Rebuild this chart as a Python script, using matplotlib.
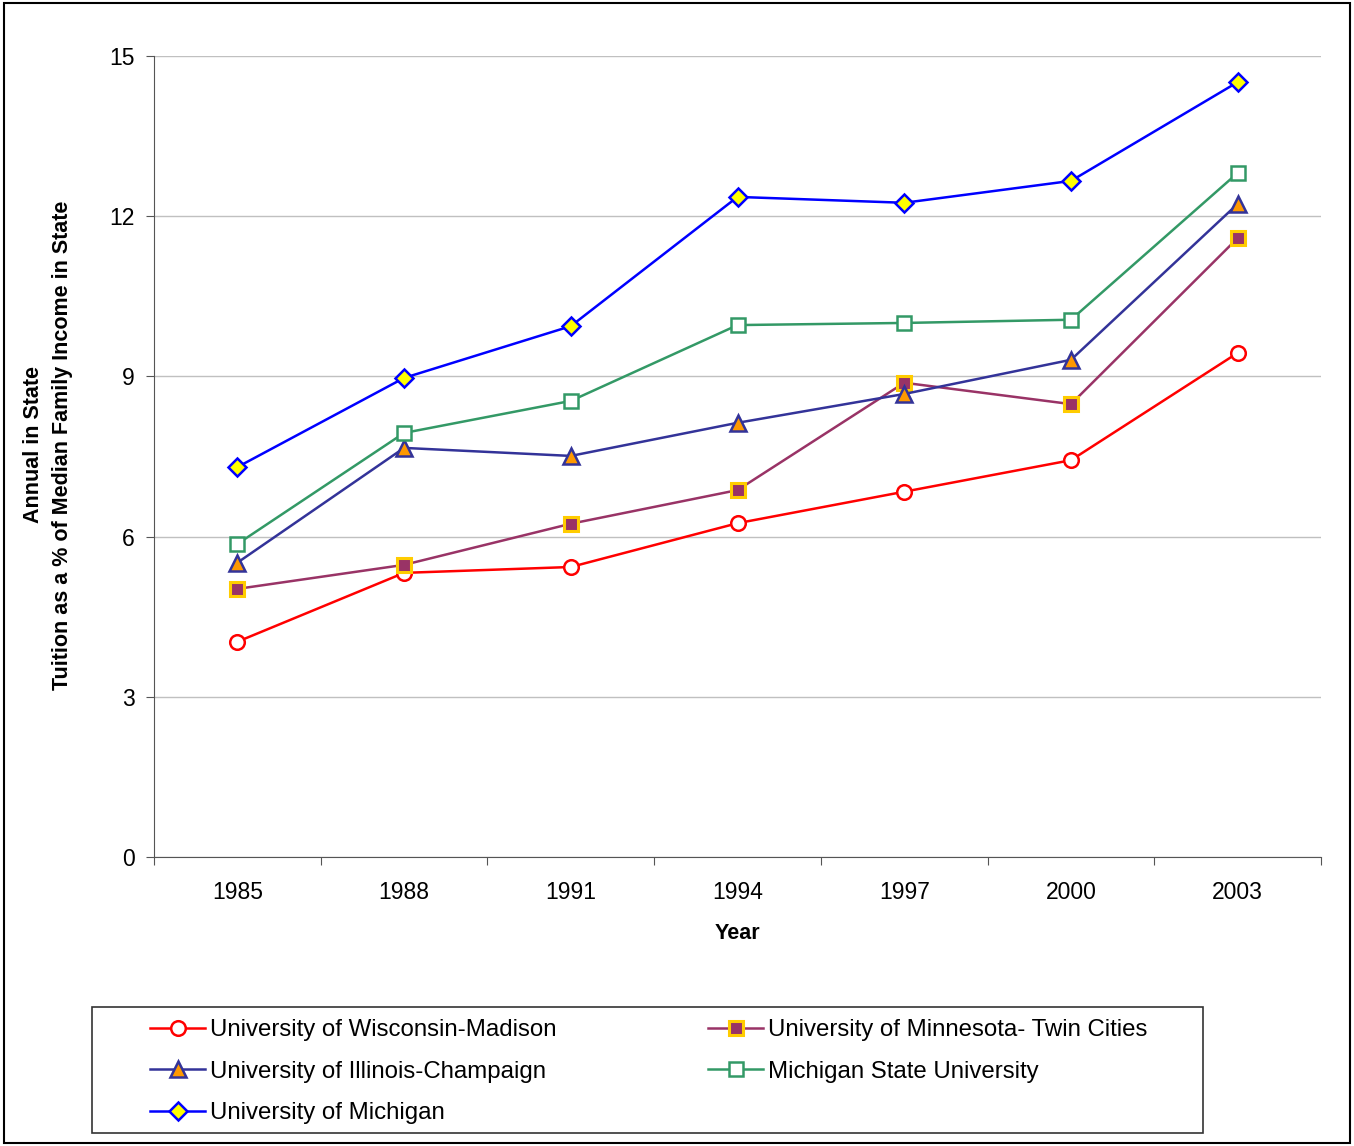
import matplotlib.pyplot as plt
from matplotlib.patches import Rectangle

plt.rcParams["font.family"] = ["Liberation Sans", "DejaVu Sans"]

years = ["1985", "1988", "1991", "1994", "1997", "2000", "2003"]
wisconsin = [4.03, 5.32, 5.43, 6.25, 6.84, 7.43, 9.44]
minnesota = [5.02, 5.47, 6.24, 6.87, 8.88, 8.48, 11.59]
illinois = [5.51, 7.66, 7.51, 8.13, 8.67, 9.31, 12.23]
michigan_state = [5.86, 7.94, 8.54, 9.96, 10.00, 10.06, 12.81]
michigan = [7.30, 8.97, 9.94, 12.36, 12.25, 12.66, 14.51]

fig = plt.figure(figsize=(13.54, 11.46), dpi=100)
ax = fig.add_axes([0.1137, 0.2522, 0.862, 0.699])

x = list(range(len(years)))
lw = 1.8
l_wis, = ax.plot(x, wisconsin, color="#FF0000", lw=lw, marker="o", ms=10.5,
                 mfc="white", mec="#FF0000", mew=1.8,
                 label="University of Wisconsin-Madison")
l_min, = ax.plot(x, minnesota, color="#993366", lw=lw, marker="s", ms=10.5,
                 mfc="#993366", mec="#FFCC00", mew=2.2,
                 label="University of Minnesota- Twin Cities")
l_ill, = ax.plot(x, illinois, color="#333399", lw=lw, marker="^", ms=11.5,
                 mfc="#FF9900", mec="#333399", mew=1.8,
                 label="University of Illinois-Champaign")
l_msu, = ax.plot(x, michigan_state, color="#339966", lw=lw, marker="s", ms=10.5,
                 mfc="white", mec="#339966", mew=1.8,
                 label="Michigan State University")
l_mich, = ax.plot(x, michigan, color="#0000FF", lw=lw, marker="D", ms=9,
                  mfc="#FFFF00", mec="#0000FF", mew=1.8,
                  label="University of Michigan")

ax.set_ylim(0, 15)
ax.set_yticks([0, 3, 6, 9, 12, 15])
ax.set_xlim(-0.5, len(years) - 0.5)
ax.set_xticks([i - 0.5 for i in range(len(years) + 1)])
ax.set_xticklabels([])
ax.set_xticks(x, minor=True)
ax.set_xticklabels(years, minor=True)
ax.tick_params(axis="x", which="minor", length=0, pad=17, labelsize=16.5)
ax.tick_params(axis="x", which="major", length=6, color="#555555")
ax.tick_params(axis="y", length=6, labelsize=16.5, pad=8, color="#555555")

ax.grid(axis="y", color="#C0C0C0", lw=1)
ax.set_axisbelow(True)
for s in ["top", "right"]:
    ax.spines[s].set_visible(False)
for s in ["left", "bottom"]:
    ax.spines[s].set_color("#555555")

ax.set_xlabel("Year", fontsize=15.5, fontweight="bold", labelpad=14)
fig.text(0.0352, 0.6117,
         "Annual in State\nTuition as a % of Median Family Income in State",
         rotation=90, ha="center", va="center", multialignment="center",
         fontsize=15.5, fontweight="bold", linespacing=1.5)

handles = [l_wis, l_ill, l_mich, l_min, l_msu]
fig.legend(handles, [h.get_label() for h in handles], ncol=2,
           loc="upper left", bbox_to_anchor=(150 / 1354, 1 - 1019 / 1146),
           fontsize=17.3, frameon=False, handlelength=2.3,
           handletextpad=0.2, labelspacing=0.82, borderpad=0,
           columnspacing=6.3, borderaxespad=0)

fig.patches.append(Rectangle((92 / 1354, 1 - 1133 / 1146), 1111 / 1354, 126 / 1146,
                             transform=fig.transFigure, fill=False,
                             edgecolor="#333333", lw=1.2))
fig.patches.append(Rectangle((0.003, 0.003), 0.994, 0.994, transform=fig.transFigure,
                             fill=False, edgecolor="black", lw=1.5))

fig.savefig("out.png", dpi=100)
